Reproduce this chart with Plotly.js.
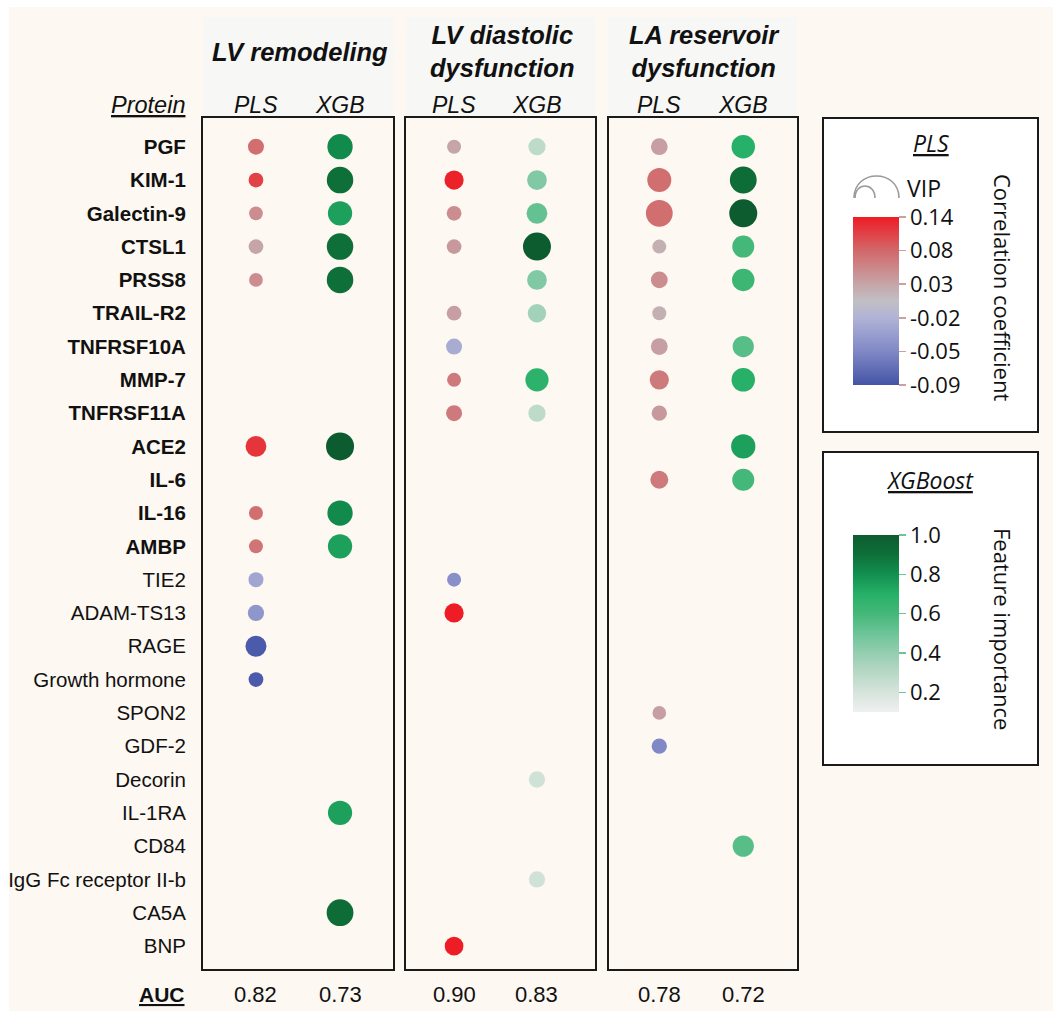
<!DOCTYPE html>
<html>
<head>
<meta charset="utf-8">
<script src="https://cdn.plot.ly/plotly-3.0.1.min.js"></script>
<style>
html,body{margin:0;padding:0;background:#ffffff;}
#chart{width:1053px;height:1011px;}
</style>
</head>
<body>
<div id="chart"></div>
<script>
// ---------------- DATA ----------------
const proteins = ['PGF','KIM-1','Galectin-9','CTSL1','PRSS8','TRAIL-R2','TNFRSF10A','MMP-7','TNFRSF11A',
  'ACE2','IL-6','IL-16','AMBP','TIE2','ADAM-TS13','RAGE','Growth hormone','SPON2','GDF-2','Decorin',
  'IL-1RA','CD84','IgG Fc receptor II-b','CA5A','BNP'];
const boldProteinCount = 13;
const outcomes = ['LV remodeling','LV diastolic<br>dysfunction','LA reservoir<br>dysfunction'];
const methods = ['PLS','XGB'];
const aucPLS = [0.82, 0.90, 0.78];
const aucXGB = [0.73, 0.83, 0.72];

// PLS correlation coefficients (null = protein not selected)
const plsCorrLVRemodeling = [0.075,0.11,0.05,0.03,0.05,null,null,null,null,0.12,null,0.075,0.07,-0.03,-0.04,-0.085,-0.085,null,null,null,null,null,null,null,null];
const plsCorrLVDiastolic  = [0.03,0.135,0.05,0.04,null,0.035,-0.025,0.065,0.065,null,null,null,null,-0.045,0.14,null,null,null,null,null,null,null,null,null,0.14];
const plsCorrLAReservoir  = [0.035,0.075,0.075,0.02,0.05,0.02,0.035,0.065,0.04,null,0.065,null,null,null,null,null,null,0.035,-0.05,null,null,null,null,null,null];

// PLS VIP scores
const plsVipLVRemodeling = [1.28,1.18,1.1,1.18,1.1,null,null,null,null,1.66,null,1.12,1.12,1.2,1.3,1.68,1.18,null,null,null,null,null,null,null,null];
const plsVipLVDiastolic  = [1.12,1.54,1.18,1.18,null,1.18,1.28,1.12,1.28,null,null,null,null,1.12,1.54,null,null,null,null,null,null,null,null,null,1.5];
const plsVipLAReservoir  = [1.34,1.92,2.14,1.12,1.34,1.12,1.34,1.54,1.22,null,1.44,null,null,null,null,null,null,1.09,1.22,null,null,null,null,null,null];

// XGBoost feature importance
const xgbImpLVRemodeling = [0.82,0.9,0.75,0.9,0.9,null,null,null,null,1.0,null,0.82,0.75,null,null,null,null,null,null,null,0.75,null,null,0.92,null];
const xgbImpLVDiastolic  = [0.28,0.45,0.52,1.0,0.45,0.36,null,0.68,0.28,null,null,null,null,null,null,null,null,null,null,0.22,null,null,0.22,null,null];
const xgbImpLAReservoir  = [0.7,0.92,1.0,0.6,0.63,null,0.55,0.7,null,0.75,0.6,null,null,null,null,null,null,null,null,null,null,0.55,null,null,null];

// colour-bar tick labels
const plsTickVals = [-0.09,-0.05,-0.02,0.03,0.08,0.14];
const xgbTickVals = [0.2,0.4,0.6,0.8,1.0];

// ---------------- HELPERS ----------------
const W = 1053, H = 1011;
const px = x => x / W;
const py = y => 1 - y / H;

// map a correlation to position on the (evenly labelled) PLS colour bar
function corrToBar(v){
  const t = plsTickVals;
  if (v <= t[0]) return 0;
  for (let i = 0; i < t.length - 1; i++){
    if (v <= t[i+1]) return i + (v - t[i]) / (t[i+1] - t[i]);
  }
  return t.length - 1;
}

const plsScale = [
  [0.0,'#4454a6'],[0.2,'#8088c6'],[0.4,'#b0b3d6'],[0.5,'#c1bfc4'],
  [0.6,'#c6a5a8'],[0.8,'#d2686a'],[1.0,'#ee1c24']
];
const xgbScale = [
  [0.0,'#eef0f0'],[0.111,'#d6e4dc'],[0.222,'#b8d8c6'],[0.333,'#94ceb0'],
  [0.444,'#6cc498'],[0.556,'#44b878'],[0.667,'#26b068'],[0.778,'#129050'],
  [0.889,'#0e7038'],[1.0,'#0d5c30']
];

const panels = [
  {x0:203, x1:393, range:[-0.63,1.63], pls:plsCorrLVRemodeling, vip:plsVipLVRemodeling, xgb:xgbImpLVRemodeling},
  {x0:406, x1:595, range:[-0.58,1.70], pls:plsCorrLVDiastolic,  vip:plsVipLVDiastolic,  xgb:xgbImpLVDiastolic},
  {x0:608.5, x1:797, range:[-0.605,1.64], pls:plsCorrLAReservoir, vip:plsVipLAReservoir, xgb:xgbImpLAReservoir}
];

const labelFont = 'Liberation Sans, Arial, sans-serif';
const legendFont = 'Open Sans, Noto Sans, sans-serif';
const ink = '#111111';

const traces = [];
const layout = {
  width: W, height: H,
  margin: {l:0, r:0, t:0, b:0},
  paper_bgcolor: '#ffffff',
  plot_bgcolor: '#ffffff',
  showlegend: false,
  hovermode: false,
  font: {family: labelFont, color: ink},
  shapes: [], annotations: [],
  coloraxis: {
    colorscale: plsScale, cmin: 0, cmax: plsTickVals.length - 1,
    colorbar: {
      x: px(853), xanchor: 'left', xpad: 0,
      y: py(301), yanchor: 'middle', ypad: 0,
      len: 168 / H, lenmode: 'fraction',
      thickness: 46, thicknessmode: 'pixels',
      outlinewidth: 0,
      tickmode: 'array',
      tickvals: plsTickVals.map((v, i) => i),
      ticktext: plsTickVals.map(v => v.toFixed(2)),
      ticks: 'outside', ticklen: 7, tickwidth: 1.5, tickcolor: '#c9a0a3',
      ticklabelstandoff: 6,
      tickfont: {family: legendFont, size: 22, color: ink}
    }
  },
  coloraxis2: {
    colorscale: xgbScale, cmin: 0.1, cmax: 1.0,
    colorbar: {
      x: px(853), xanchor: 'left', xpad: 0,
      y: py(623.5), yanchor: 'middle', ypad: 0,
      len: 177 / H, lenmode: 'fraction',
      thickness: 46, thicknessmode: 'pixels',
      outlinewidth: 0,
      tickmode: 'array',
      tickvals: xgbTickVals,
      ticktext: xgbTickVals.map(v => v.toFixed(1)),
      ticks: 'outside', ticklen: 7, tickwidth: 1.5, tickcolor: '#6cc498',
      ticklabelstandoff: 6,
      tickfont: {family: legendFont, size: 22, color: ink}
    }
  }
};

// background & header panels
layout.shapes.push({type:'rect', xref:'paper', yref:'paper', x0:px(9), x1:1, y0:0, y1:py(7),
  fillcolor:'#fdf8f1', line:{width:0}, layer:'below'});

panels.forEach((p, k) => {
  const n = k === 0 ? '' : String(k + 1);
  const xa = 'xaxis' + n, ya = 'yaxis' + n;
  const xid = 'x' + n, yid = 'y' + n;

  layout[xa] = {
    domain: [px(p.x0), px(p.x1)], anchor: yid,
    type: 'category', categoryorder: 'array', categoryarray: methods,
    range: p.range, side: 'top',
    showline: true, mirror: true, linecolor: '#1a1a1a', linewidth: 2,
    showgrid: false, zeroline: false, ticks: '', showticklabels: false,
    fixedrange: true
  };
  layout[ya] = {
    domain: [py(969), py(118.3)], anchor: xid,
    type: 'category', categoryorder: 'array', categoryarray: proteins,
    range: [proteins.length - 1 + 0.69, -0.853],
    showline: true, mirror: true, linecolor: '#1a1a1a', linewidth: 2,
    showgrid: false, zeroline: false,
    showticklabels: k === 0,
    ticks: k === 0 ? 'outside' : '', ticklen: 11, tickcolor: 'rgba(0,0,0,0)',
    tickmode: 'array', tickvals: proteins,
    ticktext: proteins.map((s, i) => i < boldProteinCount ? '<b>' + s + '</b>' : s),
    tickfont: {family: labelFont, size: 20.5, color: ink},
    fixedrange: true
  };

  // PLS bubbles
  const pi = proteins.map((_, i) => i).filter(i => p.pls[i] !== null);
  traces.push({
    type: 'scatter', mode: 'markers', xaxis: xid, yaxis: yid,
    x: pi.map(() => methods[0]), y: pi.map(i => proteins[i]),
    marker: {
      color: pi.map(i => corrToBar(p.pls[i])), coloraxis: 'coloraxis',
      size: pi.map(i => p.vip[i]), sizemode: 'diameter', sizeref: 0.08,
      line: {width: 0}, opacity: 1
    },
    hoverinfo: 'skip'
  });
  // XGB bubbles
  const xi = proteins.map((_, i) => i).filter(i => p.xgb[i] !== null);
  traces.push({
    type: 'scatter', mode: 'markers', xaxis: xid, yaxis: yid,
    x: xi.map(() => methods[1]), y: xi.map(i => proteins[i]),
    marker: {
      color: xi.map(i => p.xgb[i]), coloraxis: 'coloraxis2',
      size: xi.map(i => 13 + 15 * p.xgb[i]), sizemode: 'diameter',
      line: {width: 0}, opacity: 1
    },
    hoverinfo: 'skip'
  });

  // header background
  layout.shapes.push({type:'rect', xref:'paper', yref:'paper', x0:px(p.x0), x1:px(p.x1), y0:py(118), y1:py(17),
    fillcolor:'#f7f7f6', line:{width:0}, layer:'below'});
  // header text
  layout.annotations.push({xref:'paper', yref:'paper', x:px((p.x0 + p.x1) / 2 + 2), y:py(52),
    xanchor:'center', yanchor:'middle', text:'<b><i>' + outcomes[k] + '</i></b>', showarrow:false,
    font:{family:labelFont, size:25.5, color:ink}});
  // method labels above each panel
  methods.forEach(m => {
    layout.annotations.push({xref:xid, yref:'paper', x:m, y:py(104.5), xanchor:'center', yanchor:'middle',
      text:'<i>' + m + '</i>', showarrow:false, font:{family:labelFont, size:23, color:ink}});
  });
  // AUC values
  layout.annotations.push({xref:xid, yref:'paper', x:methods[0], y:py(994), xanchor:'center', yanchor:'middle',
    text: aucPLS[k].toFixed(2), showarrow:false, font:{family:labelFont, size:22, color:ink}});
  layout.annotations.push({xref:xid, yref:'paper', x:methods[1], y:py(994), xanchor:'center', yanchor:'middle',
    text: aucXGB[k].toFixed(2), showarrow:false, font:{family:labelFont, size:22, color:ink}});
});

// row header labels
layout.annotations.push({xref:'paper', yref:'paper', x:px(187), y:py(104.5), xanchor:'right', yanchor:'middle',
  text:'<i><u>Protein</u></i>', showarrow:false, font:{family:labelFont, size:23.5, color:ink}});
layout.annotations.push({xref:'paper', yref:'paper', x:px(187), y:py(994), xanchor:'right', yanchor:'middle',
  text:'<b><u>AUC</u></b>', showarrow:false, font:{family:labelFont, size:21, color:ink}});

// legend boxes
layout.shapes.push({type:'rect', xref:'paper', yref:'paper', x0:px(823), x1:px(1038), y0:py(432), y1:py(118),
  fillcolor:'#ffffff', line:{color:'#1a1a1a', width:2}, layer:'below'});
layout.shapes.push({type:'rect', xref:'paper', yref:'paper', x0:px(823), x1:px(1038), y0:py(765), y1:py(452),
  fillcolor:'#ffffff', line:{color:'#1a1a1a', width:2}, layer:'below'});

// VIP size icon (two arcs)
function arcPath(xl, xr, yb, h){
  const c = h * 4 / 3;
  return 'M ' + px(xl) + ',' + py(yb) + ' C ' + px(xl) + ',' + py(yb - c) + ' ' + px(xr) + ',' + py(yb - c) + ' ' + px(xr) + ',' + py(yb);
}
layout.shapes.push({type:'path', xref:'paper', yref:'paper', path:arcPath(854, 899, 198, 22),
  line:{color:'#9a9a9a', width:1.6}, fillcolor:'rgba(0,0,0,0)'});
layout.shapes.push({type:'path', xref:'paper', yref:'paper', path:arcPath(855, 875, 198, 12),
  line:{color:'#9a9a9a', width:1.6}, fillcolor:'rgba(0,0,0,0)'});

// legend texts
layout.annotations.push({xref:'paper', yref:'paper', x:px(931), y:py(143), xanchor:'center', yanchor:'middle',
  text:'<i><u>PLS</u></i>', showarrow:false, font:{family:legendFont, size:23, color:ink}});
layout.annotations.push({xref:'paper', yref:'paper', x:px(905), y:py(188), xanchor:'left', yanchor:'middle',
  text:'VIP', showarrow:false, font:{family:legendFont, size:23, color:ink}});
layout.annotations.push({xref:'paper', yref:'paper', x:px(1003), y:py(287), xanchor:'center', yanchor:'middle',
  text:'Correlation coefficient', textangle:90, showarrow:false, font:{family:legendFont, size:22, color:ink}});
layout.annotations.push({xref:'paper', yref:'paper', x:px(930), y:py(480), xanchor:'center', yanchor:'middle',
  text:'<i><u>XGBoost</u></i>', showarrow:false, font:{family:legendFont, size:23, color:ink}});
layout.annotations.push({xref:'paper', yref:'paper', x:px(1003), y:py(629), xanchor:'center', yanchor:'middle',
  text:'Feature importance', textangle:90, showarrow:false, font:{family:legendFont, size:22, color:ink}});

Plotly.newPlot('chart', traces, layout, {staticPlot: true, displayModeBar: false});
</script>
</body>
</html>
